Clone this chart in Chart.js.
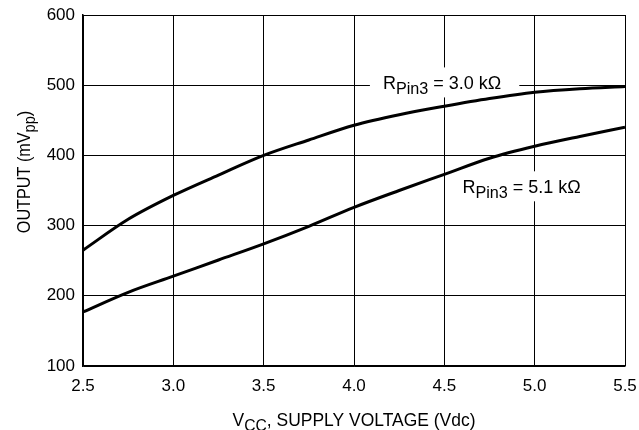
<!DOCTYPE html>
<html>
<head>
<meta charset="utf-8">
<script src="https://cdn.jsdelivr.net/npm/chart.js@4.4.1/dist/chart.umd.min.js"></script>
<style>
  html, body { margin: 0; padding: 0; background: #fff; }
  #wrap { width: 639px; height: 430px; }
</style>
</head>
<body>
<div id="wrap"><canvas id="chart" width="639" height="430"></canvas></div>
<script>
const voltage = [2.5, 2.75, 3.0, 3.25, 3.5, 3.75, 4.0, 4.25, 4.5, 4.75, 5.0, 5.25, 5.5];
const output3k0 = [265, 309, 343, 372, 400, 422, 443, 458, 470, 481, 490, 495, 498];
const output5k1 = [177, 205, 228, 251, 274, 299, 326, 350, 373, 396, 413, 427, 440];
const xTicks = [2.5, 3.0, 3.5, 4.0, 4.5, 5.0, 5.5];
const yTicks = [100, 200, 300, 400, 500, 600];

const FONT = '"Liberation Sans", Arial, sans-serif';

function toPoints(xs, ys) {
  return xs.map((x, i) => ({ x: x, y: ys[i] }));
}

// text with a lowered subscript, drawn left to right from x
function drawSubText(ctx, parts, x, y, size) {
  parts.forEach(p => {
    const s = p.sub ? size * 0.9 : size;
    ctx.font = s + 'px ' + FONT;
    ctx.fillText(p.t, x, y + (p.sub ? size * 0.28 : 0));
    x += ctx.measureText(p.t).width;
  });
  return x;
}

function measureSubText(ctx, parts, size) {
  let w = 0;
  parts.forEach(p => {
    ctx.font = (p.sub ? size * 0.9 : size) + 'px ' + FONT;
    w += ctx.measureText(p.t).width;
  });
  return w;
}

const curveLabels = {
  id: 'curveLabels',
  beforeDatasetsDraw(chart) {
    const ctx = chart.ctx;
    const xs = chart.scales.x, ys = chart.scales.y;
    const labels = [
      { v: 4.16, o: 494, parts: [{ t: 'R' }, { t: 'Pin3', sub: true }, { t: ' = 3.0 k\u03A9' }] },
      { v: 4.60, o: 346, parts: [{ t: 'R' }, { t: 'Pin3', sub: true }, { t: ' = 5.1 k\u03A9' }] }
    ];
    ctx.save();
    ctx.textBaseline = 'alphabetic';
    ctx.textAlign = 'left';
    labels.forEach(l => {
      const x = xs.getPixelForValue(l.v);
      const y = ys.getPixelForValue(l.o);
      const w = measureSubText(ctx, l.parts, 18);
      ctx.fillStyle = '#fff';
      ctx.fillRect(x - 13, y - 22, w + 31, 30);
      ctx.fillStyle = '#000';
      drawSubText(ctx, l.parts, x, y, 18);
    });
    ctx.restore();
  }
};

const axisTitles = {
  id: 'axisTitles',
  afterDraw(chart) {
    const ctx = chart.ctx;
    const area = chart.chartArea;
    ctx.save();
    ctx.fillStyle = '#000';
    ctx.textBaseline = 'alphabetic';
    ctx.textAlign = 'left';

    const xParts = [{ t: 'V' }, { t: 'CC', sub: true }, { t: ', SUPPLY VOLTAGE (Vdc)' }];
    const xw = measureSubText(ctx, xParts, 18) * 0.97;
    ctx.save();
    ctx.translate((area.left + area.right) / 2 - xw / 2, 426);
    ctx.scale(0.97, 1);
    drawSubText(ctx, xParts, 0, 0, 18);
    ctx.restore();

    const yParts = [{ t: 'OUTPUT (mV' }, { t: 'pp', sub: true }, { t: ')' }];
    const yw = measureSubText(ctx, yParts, 18) * 0.9;
    ctx.translate(30, 172);
    ctx.rotate(-Math.PI / 2);
    ctx.scale(0.9, 1);
    drawSubText(ctx, yParts, -yw / 2 / 0.9, 0, 18);
    ctx.restore();
  }
};

new Chart(document.getElementById('chart'), {
  type: 'line',
  data: {
    datasets: [
      {
        label: 'RPin3 = 3.0 k\u03A9',
        data: toPoints(voltage, output3k0),
        borderColor: '#000',
        borderWidth: 3,
        pointRadius: 0,
        cubicInterpolationMode: 'monotone',
        fill: false
      },
      {
        label: 'RPin3 = 5.1 k\u03A9',
        data: toPoints(voltage, output5k1),
        borderColor: '#000',
        borderWidth: 3,
        pointRadius: 0,
        cubicInterpolationMode: 'monotone',
        fill: false
      }
    ]
  },
  options: {
    responsive: false,
    animation: false,
    devicePixelRatio: 1,
    layout: { padding: { top: 15, right: 14, left: 0, bottom: 0 } },
    plugins: {
      legend: { display: false },
      tooltip: { enabled: false }
    },
    scales: {
      x: {
        type: 'linear',
        min: 2.5,
        max: 5.5,
        afterBuildTicks: s => { s.ticks = xTicks.map(v => ({ value: v })); },
        afterFit: s => { s.height = 64; s.paddingLeft = 0; s.paddingRight = 0; },
        ticks: {
          color: '#000',
          font: { family: FONT, size: 17 },
          padding: 10,
          callback: v => v.toFixed(1)
        },
        grid: { color: '#000', lineWidth: 1, drawTicks: false },
        border: { color: '#000', width: 1.5 }
      },
      y: {
        type: 'linear',
        min: 100,
        max: 600,
        afterBuildTicks: s => { s.ticks = yTicks.map(v => ({ value: v })); },
        afterFit: s => { s.width = 83; s.paddingTop = 0; s.paddingBottom = 0; },
        ticks: {
          color: '#000',
          font: { family: FONT, size: 17 },
          padding: 8
        },
        grid: { color: '#000', lineWidth: 1, drawTicks: false },
        border: { color: '#000', width: 1.5 }
      }
    }
  },
  plugins: [curveLabels, axisTitles]
});
</script>
</body>
</html>
